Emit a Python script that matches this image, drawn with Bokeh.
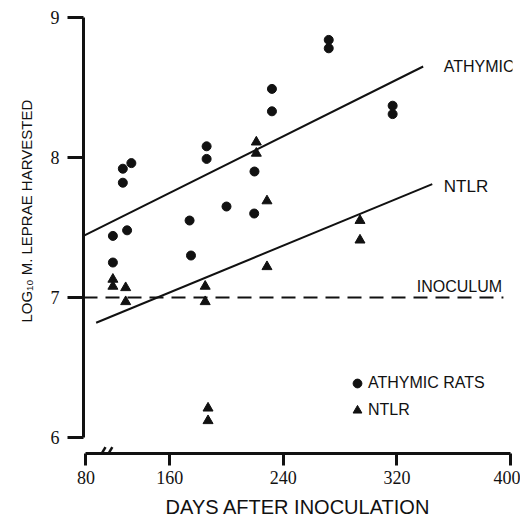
import math
from bokeh.plotting import figure
from bokeh.models import Range1d, FixedTicker, Label, Legend, LegendItem, Arrow, Title
from bokeh.embed import file_html
from bokeh.resources import INLINE

# ---------------- data ----------------
athymic_days = [120, 120, 127, 127, 133, 130, 174, 175, 186, 186, 200, 219.5, 219.7, 232, 232, 272, 272, 317, 317]
athymic_log = [7.25, 7.44, 7.92, 7.82, 7.96, 7.48, 7.55, 7.30, 8.08, 7.99, 7.65, 7.60, 7.90, 8.49, 8.33, 8.84, 8.78, 8.37, 8.31]

ntlr_days = [120, 120, 129, 129, 185, 185, 187, 187, 221, 221, 228.5, 228.5, 294, 294]
ntlr_log = [7.13, 7.08, 7.07, 6.97, 7.08, 6.97, 6.21, 6.12, 8.11, 8.03, 7.69, 7.22, 7.55, 7.41]

athymic_fit_days = [99.3, 338.5]
athymic_fit_log = [7.44, 8.65]
ntlr_fit_days = [108.2, 344.9]
ntlr_fit_log = [6.82, 7.81]

inoculum_days = [99.3, 395]
inoculum_log = [7.0, 7.0]

break_day = 101          # axis break, labelled "80"
x_ticks = [break_day, 160, 240, 320, 400]
x_tick_labels = {break_day: "80"}
y_ticks = [6, 7, 8, 9]

# ---------------- styling ----------------
NARROW = "Liberation Sans Narrow"
FONT = "Liberation Sans"
INK = "#111111"

p = figure(width=520, height=524,
           x_range=Range1d(99.3, 401.4), y_range=Range1d(5.886, 9.05),
           output_backend="svg", toolbar_location=None,
           min_border_left=83, min_border_right=8, min_border_top=10, min_border_bottom=71)
p.outline_line_color = None
p.xgrid.visible = False
p.ygrid.visible = False
p.background_fill_color = "white"
p.border_fill_color = "white"

for ax in (p.xaxis[0], p.yaxis[0]):
    ax.axis_line_width = 3
    ax.axis_line_color = INK
    ax.major_tick_line_width = 3
    ax.major_tick_line_color = INK
    ax.major_tick_in = 0
    ax.minor_tick_line_color = None
    ax.major_label_text_font = NARROW
    ax.major_label_text_font_size = "18px"
    ax.major_label_text_color = INK
    ax.axis_label_text_font = FONT
    ax.axis_label_text_font_style = "normal"
    ax.axis_label_text_color = INK

xa = p.xaxis[0]
xa.ticker = FixedTicker(ticks=x_ticks)
xa.major_label_overrides = x_tick_labels
xa.bounds = (break_day, 400)
xa.major_tick_out = 12
xa.major_label_standoff = 5
xa.axis_label = "DAYS AFTER INOCULATION"
xa.axis_label_text_font_size = "20px"
xa.axis_label_standoff = 9

ya = p.yaxis[0]
ya.ticker = FixedTicker(ticks=y_ticks)
ya.bounds = (6, 9)
ya.major_tick_out = 16
ya.major_label_standoff = 8

# y-axis title, as a side title so it can sit off-centre like the original
p.add_layout(Title(text="LOG\u2081\u2080 M. LEPRAE HARVESTED", align="left", offset=131,
                   text_font=FONT, text_font_size="15px", text_font_style="normal",
                   text_color=INK, standoff=26), "left")

# inoculum line
p.line(inoculum_days, inoculum_log, line_width=2, line_color=INK, line_dash="14 8")

# regression lines
p.line(athymic_fit_days, athymic_fit_log, line_width=2, line_color=INK)
p.line(ntlr_fit_days, ntlr_fit_log, line_width=2, line_color=INK)

# points
circ = p.scatter(athymic_days, athymic_log, marker="circle", size=9, color=INK)
tri = p.scatter(ntlr_days, ntlr_log, marker="triangle", size=10, color=INK)

# line labels
p.add_layout(Label(x=353, y=8.65, text="ATHYMIC", text_font=FONT, text_font_size="16px",
                   text_color=INK, text_baseline="middle"))
p.add_layout(Label(x=353, y=7.791, text="NTLR", text_font=FONT, text_font_size="17px",
                   text_color=INK, text_baseline="middle"))
p.add_layout(Label(x=334, y=7.079, text="INOCULUM", text_font=FONT, text_font_size="16px",
                   text_color=INK, text_baseline="middle"))

# legend
legend = Legend(items=[LegendItem(label="ATHYMIC RATS", renderers=[circ]),
                       LegendItem(label="NTLR", renderers=[tri])],
                location=(263, 32), border_line_color=None, background_fill_alpha=0,
                padding=0, margin=0, spacing=5, glyph_width=22, glyph_height=22,
                label_height=22, label_standoff=-1,
                label_text_font=FONT, label_text_font_size="16px", label_text_color=INK)
p.add_layout(legend)

# axis break marks "//"
for d0 in (6.7, 11.5):
    p.add_layout(Arrow(end=None, x_start=break_day + d0, y_start=5.812,
                       x_end=break_day + d0 + 7.1, y_end=5.931,
                       line_width=2.5, line_color=INK))

open("out.html", "w").write(file_html(p, INLINE))
